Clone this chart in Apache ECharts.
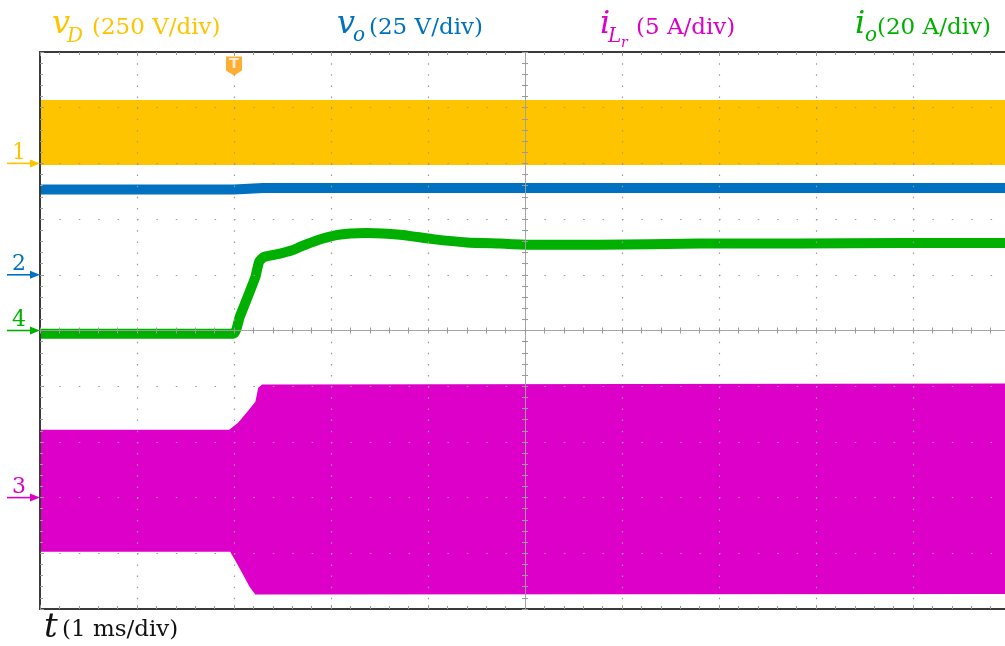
<!DOCTYPE html>
<html><head><meta charset="utf-8">
<script src="https://cdn.jsdelivr.net/npm/echarts@6/dist/echarts.min.js"></script>
<style>html,body{margin:0;padding:0;background:#fff}#c{width:1005px;height:646px}</style>
</head><body><div id="c"></div>
<script>
// ---------- data (scope divisions: x = time div, 0 = screen centre; y = vertical div) ----------
const vD_upper = [[-5, 4.14], [5, 4.14]];
const vD_lower = [[-5, 2.97], [5, 2.97]];
const vo_center = [[-5, 2.53], [-3.0, 2.53], [-2.7, 2.56], [5, 2.56]];
const io_center = [[-5, -0.06], [-3.01, -0.06], [-2.94, 0.25], [-2.86, 0.60], [-2.78, 0.96], [-2.74, 1.24],
  [-2.69, 1.32], [-2.55, 1.37], [-2.40, 1.44], [-2.32, 1.50], [-2.14, 1.62], [-1.98, 1.70], [-1.80, 1.74],
  [-1.63, 1.75], [-1.29, 1.72], [-0.95, 1.64], [-0.60, 1.58], [-0.26, 1.56], [0.08, 1.54], [0.77, 1.54],
  [1.80, 1.56], [2.84, 1.56], [3.87, 1.57], [5, 1.57]];
const iLr_upper = [[-5, -1.78], [-3.05, -1.78], [-2.96, -1.66], [-2.85, -1.43], [-2.78, -1.28],
  [-2.75, -1.03], [-2.71, -0.97], [5, -0.95]];
const iLr_lower = [[-5, -3.97], [-3.04, -3.97], [-2.99, -4.12], [-2.92, -4.34], [-2.84, -4.60],
  [-2.78, -4.74], [5, -4.73]];
const channelNames = ['1', '2', '3', '4'];
const channelLevels = [3, 1, -3, 0];
const triggerPos = [-3, 4.75];
const titleTexts = ['(250 V/div)', '(25 V/div)', '(5 A/div)', '(20 A/div)'];
const timeText = '(1 ms/div)';

const colors = ['#FFC400', '#0070C0', '#DC00C8', '#00B000'];

// ---------- chart ----------
const chart = echarts.init(document.getElementById('c'));
const FONT = '"DejaVu Serif", serif';

function band(upper, lower, color) {
  return {
    type: 'custom', coordinateSystem: 'cartesian2d', xAxisIndex: 0, yAxisIndex: 0,
    data: [[0, 0]], z: 1, silent: true,
    renderItem: function (params, api) {
      const pts = upper.map(p => api.coord(p)).concat(lower.slice().reverse().map(p => api.coord(p)));
      return { type: 'polygon', shape: { points: pts }, style: { fill: color } };
    }
  };
}
const axBase = { type: 'value', min: -5, max: 5, interval: 1, axisLabel: { show: false }, z: 5 };
const border = { color: '#3a3a3a', width: 2 };
const tickSt = { color: '#9a9a9a', width: 1 };
const centreLine = { color: '#a0a0a0', width: 1, type: [1, 1] };

const option = {
  animation: false,
  backgroundColor: '#fff',
  grid: { left: 40, width: 970, top: 52, height: 557, containLabel: false, outerBoundsMode: 'none' },
  xAxis: [
    Object.assign({}, axBase, { position: 'bottom',
      axisLine: { onZero: false, lineStyle: border },
      axisTick: { show: true, inside: true, length: 4, lineStyle: tickSt },
      minorTick: { show: true, splitNumber: 5, length: 3, lineStyle: tickSt },
      splitLine: { show: true, lineStyle: { color: '#9a9a9a', width: 1.2, type: [1.5, 9.64] } } }),
    Object.assign({}, axBase, { position: 'top',
      axisLine: { onZero: false, lineStyle: border },
      axisTick: { show: true, inside: true, length: 4, lineStyle: tickSt },
      minorTick: { show: true, splitNumber: 5, length: 3, lineStyle: tickSt },
      splitLine: { show: false } }),
    Object.assign({}, axBase, { position: 'bottom',
      axisLine: { onZero: true, onZeroAxisIndex: 0, lineStyle: centreLine },
      axisTick: { show: true, inside: false, length: 3, lineStyle: tickSt },
      minorTick: { show: true, splitNumber: 5, length: 3, lineStyle: tickSt },
      splitLine: { show: false } }),
    Object.assign({}, axBase, { position: 'top',
      axisLine: { onZero: true, onZeroAxisIndex: 0, lineStyle: centreLine },
      axisTick: { show: true, inside: false, length: 3, lineStyle: tickSt },
      minorTick: { show: true, splitNumber: 5, length: 3, lineStyle: tickSt },
      splitLine: { show: false } })
  ],
  yAxis: [
    Object.assign({}, axBase, { position: 'left',
      axisLine: { onZero: false, lineStyle: border },
      axisTick: { show: true, inside: true, length: 4, lineStyle: tickSt },
      minorTick: { show: true, splitNumber: 5, length: 3, lineStyle: tickSt },
      splitLine: { show: true, lineStyle: { color: '#9a9a9a', width: 1.2, type: [1.5, 17.9] } } }),
    Object.assign({}, axBase, { position: 'left',
      axisLine: { onZero: true, onZeroAxisIndex: 0, lineStyle: centreLine },
      axisTick: { show: true, inside: false, length: 3, lineStyle: tickSt },
      minorTick: { show: true, splitNumber: 5, length: 3, lineStyle: tickSt },
      splitLine: { show: false } }),
    Object.assign({}, axBase, { position: 'right',
      axisLine: { onZero: true, onZeroAxisIndex: 0, lineStyle: centreLine },
      axisTick: { show: true, inside: false, length: 3, lineStyle: tickSt },
      minorTick: { show: true, splitNumber: 5, length: 3, lineStyle: tickSt },
      splitLine: { show: false } })
  ],
  series: [
    band(vD_upper, vD_lower, colors[0]),
    { type: 'line', xAxisIndex: 0, yAxisIndex: 0, data: vo_center, showSymbol: false, silent: true, z: 1,
      lineStyle: { color: colors[1], width: 10, join: 'round', cap: 'butt' } },
    { type: 'line', xAxisIndex: 0, yAxisIndex: 0, data: io_center, showSymbol: false, silent: true, z: 1,
      smooth: 0.2, lineStyle: { color: colors[3], width: 10, join: 'round', cap: 'butt' } },
    band(iLr_upper, iLr_lower, colors[2]),
    { type: 'scatter', xAxisIndex: 0, yAxisIndex: 0, data: [triggerPos], z: 8, silent: true,
      symbol: 'path://M0,0 L16,0 L16,14 L8,19 L0,14 Z', symbolSize: [16, 19],
      itemStyle: { color: '#FF9A00' },
      label: { show: true, position: 'inside', formatter: 'T', color: '#fff', fontWeight: 'bold',
        fontSize: 14, fontFamily: 'DejaVu Sans', offset: [0, -2] } }
  ]
};
chart.setOption(option);

// ---------- texts & channel markers ----------
function txt(str, x, base, size, color, italic) {
  return { type: 'text', x: x, y: base - 0.34 * size, z: 20, silent: true,
    style: { text: str, fontSize: size, fontFamily: FONT, fontStyle: italic ? 'italic' : 'normal',
      fill: color, align: 'left', verticalAlign: 'middle' } };
}
const g = [];
// v_D
g.push(txt('v', 52, 36, 32, colors[0], true));
g.push(txt('D', 67, 44, 20, colors[0], true));
g.push(txt(titleTexts[0], 92, 36, 23, colors[0], false));
// v_o
g.push(txt('v', 337, 36, 32, colors[1], true));
g.push(txt('o', 353, 43, 20, colors[1], true));
g.push(txt(titleTexts[1], 369, 36, 23, colors[1], false));
// i_Lr
g.push(txt('i', 600, 36, 32, colors[2], true));
g.push(txt('L', 608, 44, 20, colors[2], true));
g.push(txt('r', 621, 48, 14, colors[2], true));
g.push(txt(titleTexts[2], 636, 36, 23, colors[2], false));
// i_o
g.push(txt('i', 855, 36, 32, colors[3], true));
g.push(txt('o', 865, 43, 20, colors[3], true));
g.push(txt(titleTexts[3], 877, 36, 23, colors[3], false));
// t
g.push(txt('t', 44, 640, 34, '#111', true));
g.push(txt(timeText, 62, 638, 23, '#111', false));

channelLevels.forEach(function (lv, i) {
  const p = chart.convertToPixel({ xAxisIndex: 0, yAxisIndex: 0 }, [-5, lv]);
  const y = p[1], x = p[0];
  g.push({ type: 'line', z: 20, silent: true, shape: { x1: 7, y1: y, x2: x - 8, y2: y },
    style: { stroke: colors[i], lineWidth: 1.6 } });
  g.push({ type: 'polygon', z: 20, silent: true,
    shape: { points: [[x - 10, y - 4], [x, y], [x - 10, y + 4]] }, style: { fill: colors[i] } });
  g.push(txt(channelNames[i], 12, y - 3, 22, colors[i], false));
});
chart.setOption({ graphic: g });
</script></body></html>
